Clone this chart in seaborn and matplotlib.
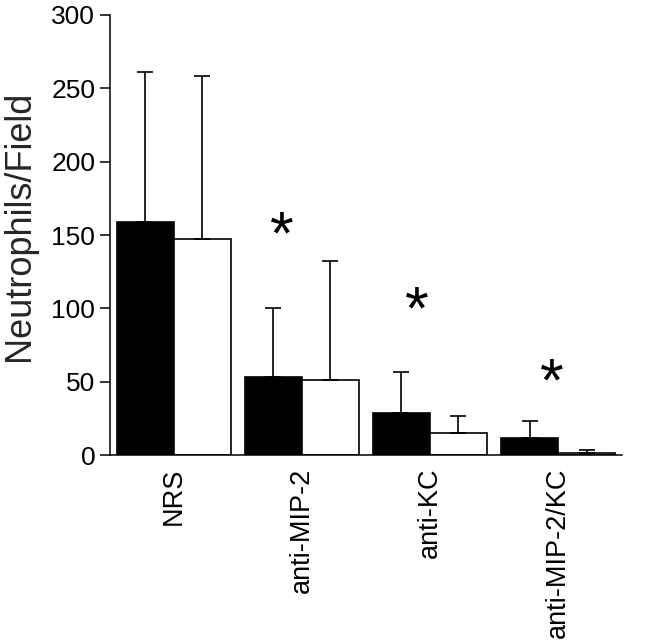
import matplotlib
matplotlib.use("Agg")
import matplotlib.pyplot as plt
import seaborn as sns
import pandas as pd
import numpy as np

categories = ["NRS", "anti-MIP-2", "anti-KC", "anti-MIP-2/KC"]
series = ["A", "B"]
mean_a = [159, 53, 29, 12]
err_top_a = [261, 100, 57, 23]
mean_b = [147, 51, 15, 1.5]
err_top_b = [258, 132, 27, 3.5]
star_x = [0.84, 1.90, 2.95]
star_y = [148, 97, 48]
yticks = [0, 50, 100, 150, 200, 250, 300]

sns.set_theme(style="ticks")
plt.rcParams["font.family"] = ["Liberation Sans", "DejaVu Sans"]

df = pd.DataFrame({
    "cat": categories * 2,
    "grp": [series[0]] * 4 + [series[1]] * 4,
    "val": mean_a + mean_b,
})

fig = plt.figure(figsize=(6.5, 6.43), dpi=100)
ax = fig.add_axes([0.169, 0.292, 0.788, 0.685])
sns.barplot(data=df, x="cat", y="val", hue="grp", order=categories,
            hue_order=series, palette=["black", "white"], edgecolor="black",
            linewidth=1.2, width=0.89, errorbar=None, ax=ax, legend=False)

for cont, means, tops in zip(ax.containers, [mean_a, mean_b], [err_top_a, err_top_b]):
    xs = [p.get_x() + p.get_width() / 2 for p in cont.patches]
    ax.errorbar(xs, means, yerr=[np.zeros(len(means)), np.array(tops) - np.array(means)],
                fmt="none", ecolor="black", elinewidth=1.2, capsize=5.5, capthick=1.2,
                zorder=1)

for sx, sy in zip(star_x, star_y):
    ax.text(sx, sy, "*", ha="center", va="center", fontsize=44, color="black")

ax.set_xlim(-0.5, 3.5)
ax.set_ylim(0, 300)
ax.set_yticks(yticks)
ax.set_xlabel("")
ax.set_ylabel("Neutrophils/Field", fontsize=26)
ax.yaxis.set_label_coords(-0.143, 0.52)
ax.tick_params(axis="y", labelsize=19, length=7.5, width=1.1, pad=3, color="black", labelcolor="black")
ax.tick_params(axis="x", length=0, labelsize=19.5, labelrotation=90, pad=9, labelcolor="black")
for s in ["left", "bottom"]:
    ax.spines[s].set_color("black")
    ax.spines[s].set_linewidth(1.1)
sns.despine(ax=ax)

fig.savefig("out.png", dpi=100)
